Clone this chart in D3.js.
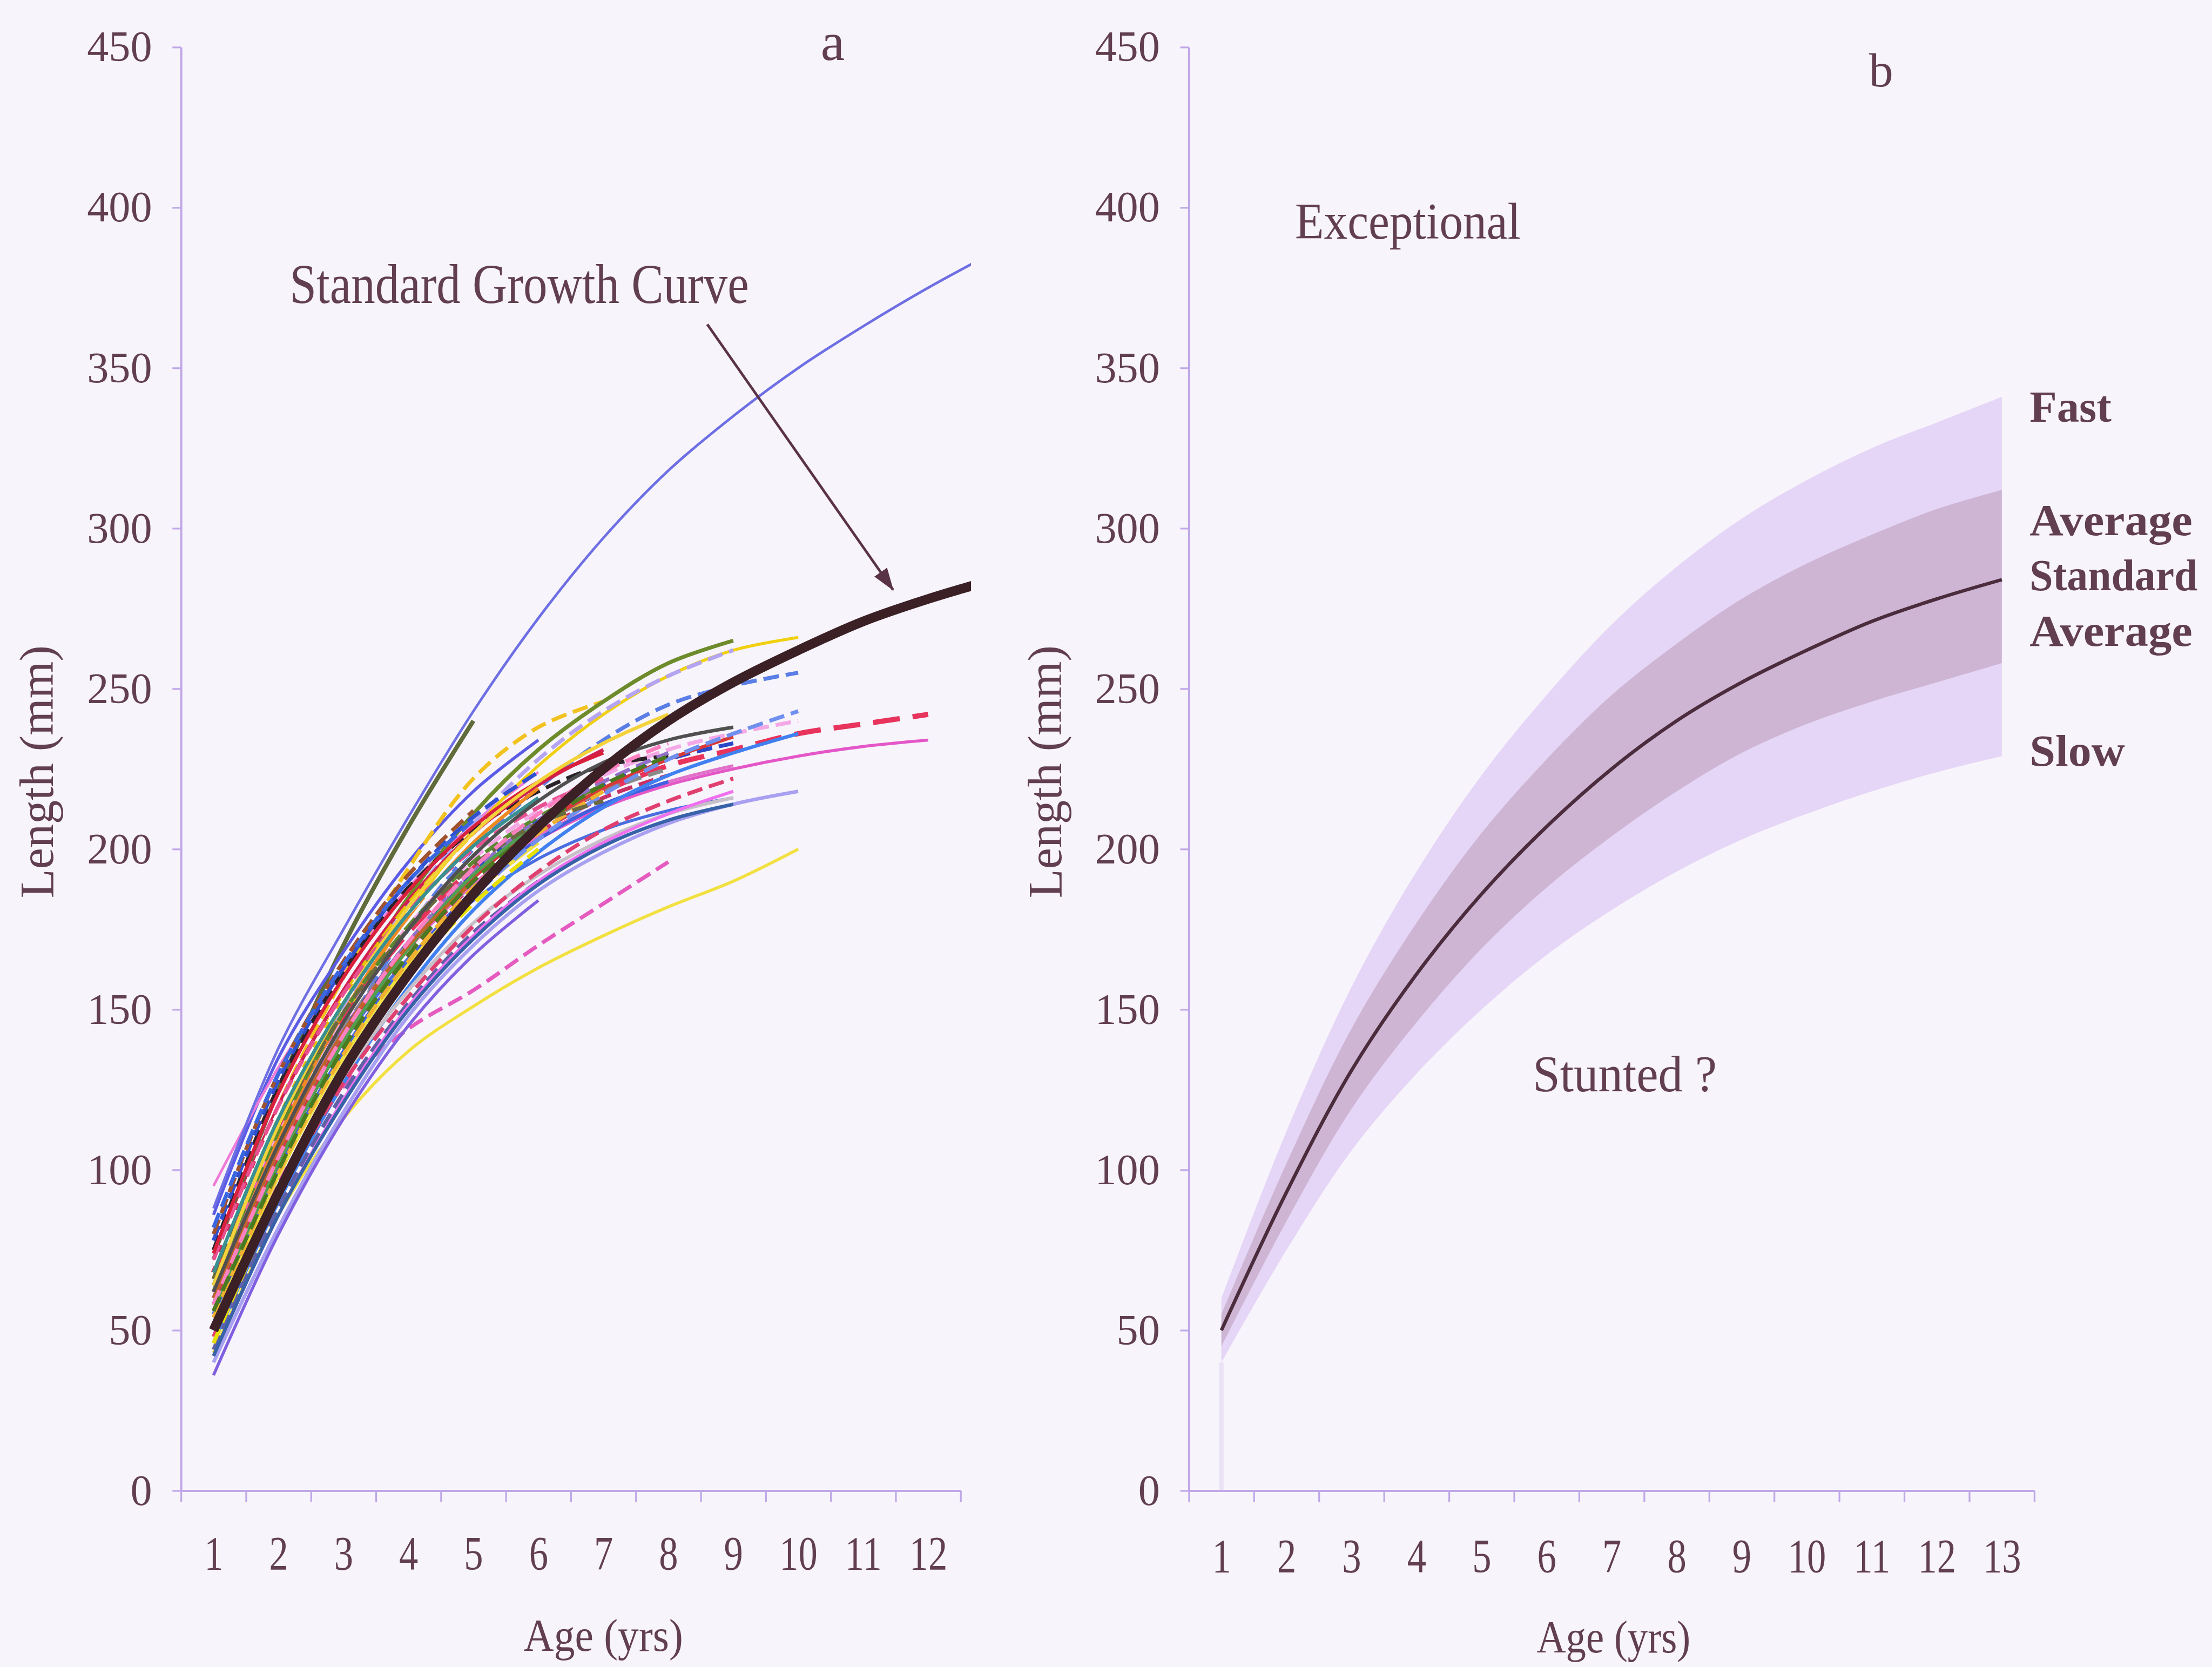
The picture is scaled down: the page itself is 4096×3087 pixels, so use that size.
<!DOCTYPE html>
<html><head><meta charset="utf-8">
<script src="https://cdn.jsdelivr.net/npm/d3@7"></script>
<style>html,body{margin:0;padding:0;background:#f7f4fb;}svg{display:block}</style>
</head><body>
<svg id="chart" width="4096" height="3087"></svg>
<script>
// ---------------- DATA ----------------
const ages = [1,2,3,4,5,6,7,8,9,10,11,12,13];
const xLabelsA = ["1","2","3","4","5","6","7","8","9","10","11","12"];
const xLabelsB = ["1","2","3","4","5","6","7","8","9","10","11","12","13"];
const yTicks = [0,50,100,150,200,250,300,350,400,450];

const standardCurve    = [50, 93, 131, 161, 186, 207, 225, 240, 252, 262, 271, 278, 284];
const exceptionalCurve = [88, 138, 175, 210, 243, 272, 297, 318, 335, 350, 363, 375, 386];

const fastUpper = [60, 112, 157, 193, 223, 248, 270, 288, 303, 315, 325, 333, 341];
const avgUpper  = [55, 102, 144, 177, 205, 228, 248, 264, 278, 289, 298, 306, 312];
const avgLower  = [45, 84, 119, 146, 169, 188, 204, 218, 230, 239, 246, 252, 258];
const slowLower = [40, 75, 106, 130, 150, 167, 181, 193, 203, 211, 218, 224, 229];

// individual fish back-calculated growth (length at age 1,2,3...)
const fishValues = [
  [72,125,170,207,240],
  [86,135,168,196,218,234],
  [95,132,162,188,208,224],
  [70,120,160,194,222,238,246],
  [62,112,152,185,211,231,246,258,265],
  [58,106,146,180,206,226,242,254,262,266],
  [60,108,150,183,208,228,243,254,262],
  [55,102,142,175,200,219,234,245,251,255],
  [66,112,148,176,197,212,223,231,236,240],
  [68,114,148,174,194,208,218,226,231,236,239,242],
  [64,110,144,170,189,203,213,220,225,229,232,234],
  [62,106,140,166,184,197,206,212,216],
  [75,126,162,188,206,218,226,229],
  [52,96,126,144,156,170,183,196],
  [43,86,116,137,151,163,173,182,190,200],
  [78,128,163,190,210,224],
  [70,120,156,184,205,220,231],
  [66,116,154,183,205],
  [62,108,144,171,192,207,218,225],
  [80,130,165,192,212],
  [60,110,149,179,202,219],
  [58,106,143,171,193,209,220,228,233],
  [56,102,139,167,189,205,216,223],
  [64,112,149,176,196,210,220],
  [62,108,143,169,189,204,214,221,226],
  [54,100,137,165,187,203,214,221],
  [70,118,153,180,200],
  [52,98,135,164,186,202],
  [58,104,141,169,191,207,219,228,235],
  [50,94,131,161,185,203,217,228,236,243],
  [60,106,143,171,193,209,221,230],
  [72,120,155,181,200,213,222],
  [56,102,140,169,192,208],
  [54,99,136,165,188,205,218],
  [46,90,127,157,181,199,213,223,230,236],
  [52,94,129,156,177,192,203,211,216],
  [48,92,127,154,176,193,206,215,222],
  [40,82,118,148,170,187,199,208,214,218],
  [44,88,124,152,174,190],
  [42,86,122,151,173,190,202,211,218],
  [46,92,131,161,183,200],
  [60,106,143,170,190],
  [42,86,121,150,172,189,201,209,214],
  [36,80,116,145,167,184],
  [66,114,149,175,195,208,215],
  [74,124,160,187,207,221,230],
  [82,130,164,190,209],
  [64,114,152,182,205,221,233,242],
  [68,116,152,180,201,216],
  [58,104,142,171,194,211,224,233],
  [62,108,146,175,198,215,227,234,238],
  [56,100,138,167,190,207,220,229]
];

// ---------------- STYLES ----------------
const fishStyles = [
  {c:"#5f6b3a",d:0,w:10},{c:"#5b5be6",d:0,w:7},{c:"#f07ad8",d:0,w:6},{c:"#f2c21e",d:1,w:9},
  {c:"#6d8b2a",d:0,w:9},{c:"#f0d010",d:0,w:7},{c:"#b4a4f2",d:1,w:9},{c:"#5a7ee6",d:1,w:9},
  {c:"#f4a8e6",d:1,w:9},{c:"#e8335c",d:2,w:12},{c:"#e457c8",d:0,w:7},{c:"#4a6ee0",d:0,w:7},
  {c:"#2a2228",d:1,w:9},{c:"#e55bbf",d:1,w:9},{c:"#f2e040",d:0,w:7},{c:"#3050d0",d:1,w:9},
  {c:"#d02050",d:0,w:8},{c:"#e8c000",d:1,w:9},{c:"#8a8a8a",d:1,w:9},{c:"#a0522d",d:1,w:9},
  {c:"#f08a20",d:0,w:8},{c:"#2a48c8",d:1,w:9},{c:"#c83064",d:1,w:9},{c:"#5a8a30",d:1,w:9},
  {c:"#e070c8",d:0,w:7},{c:"#4060e0",d:0,w:8},{c:"#ffffff",d:1,w:9},{c:"#f0e040",d:0,w:8},
  {c:"#d83838",d:0,w:8},{c:"#7090f0",d:1,w:9},{c:"#9070c8",d:1,w:9},{c:"#e85090",d:1,w:9},
  {c:"#50a050",d:0,w:8},{c:"#f0b030",d:1,w:9},{c:"#4080f0",d:0,w:8},{c:"#c8c0c8",d:0,w:8},
  {c:"#e04070",d:1,w:9},{c:"#a8a0f0",d:0,w:8},{c:"#6060a8",d:1,w:9},{c:"#f070f0",d:0,w:7},
  {c:"#e8e000",d:1,w:9},{c:"#c06428",d:0,w:8},{c:"#3862a8",d:0,w:8},{c:"#8060e0",d:0,w:7},
  {c:"#6a6a40",d:1,w:9},{c:"#d8203c",d:0,w:8},{c:"#3a66e0",d:1,w:9},{c:"#f4d23a",d:0,w:8},
  {c:"#3a9090",d:0,w:8},{c:"#ff80c0",d:1,w:9},{c:"#505050",d:0,w:8},{c:"#4a7a20",d:1,w:9}
];

const S = 0.802;
const BG = "#f7f4fb";
const TEXT = "#623f50";
const AXIS = "#bfa8e8";
const FONT = "'Liberation Serif','Times New Roman',serif";

const svg = d3.select("#chart");
const root = svg.append("g").attr("transform", `scale(${S})`);
root.append("rect").attr("width", 5101).attr("height", 3845).attr("fill", BG);

const Y0 = 3442, YTOP = 109;
const y = d3.scaleLinear().domain([0, 450]).range([Y0, YTOP]);

const A = {left: 418, right: 2218, clip: 2242};
const xA = d3.scaleLinear().domain([0.5, 12.5]).range([A.left, A.right]);
const B = {left: 2745, right: 4697};
const xB = d3.scaleLinear().domain([0.5, 13.5]).range([B.left, B.right]);

const pts = vals => vals.map((v, i) => [ages[i], v]);
const smooth = d3.curveCatmullRom.alpha(0.5);

// ---------------- PANEL A ----------------
const defs = root.append("defs");
defs.append("clipPath").attr("id", "clipA").append("rect")
  .attr("x", A.left).attr("y", 0).attr("width", A.clip - A.left).attr("height", Y0);

const lineA = d3.line().x(d => xA(d[0])).y(d => y(d[1])).curve(smooth);
const gA = root.append("g").attr("clip-path", "url(#clipA)");

fishValues.forEach((vals, i) => {
  const st = fishStyles[i];
  gA.append("path").attr("d", lineA(pts(vals)))
    .attr("fill", "none").attr("stroke", st.c).attr("stroke-width", st.w)
    .attr("stroke-linecap", "butt")
    .attr("stroke-dasharray", st.d === 2 ? "62,30" : st.d === 1 ? "36,16" : null);
});
gA.append("path").attr("d", lineA(pts(exceptionalCurve)))
  .attr("fill", "none").attr("stroke", "#6f6fe4").attr("stroke-width", 6);
gA.append("path").attr("d", lineA(pts(standardCurve)))
  .attr("fill", "none").attr("stroke", "#3b2026").attr("stroke-width", 22)
  .attr("stroke-linejoin", "round");

// ---------------- PANEL B ----------------
const lineB = d3.line().x(d => xB(d[0])).y(d => y(d[1])).curve(smooth);
const areaB = (lo, hi) => d3.area().x((d, i) => xB(ages[i])).y0((d, i) => y(lo[i])).y1((d, i) => y(hi[i]))
  .curve(smooth)(ages);
const gB = root.append("g");
gB.append("line").attr("x1", xB(ages[0])).attr("x2", xB(ages[0]))
  .attr("y1", y(0)).attr("y2", y(slowLower[0])).attr("stroke", "#ece2f8").attr("stroke-width", 10);
gB.append("path").attr("d", areaB(slowLower, fastUpper)).attr("fill", "#e5d5f6");
gB.append("path").attr("d", areaB(avgLower, avgUpper)).attr("fill", "#cdb5d3");
gB.append("path").attr("d", lineB(pts(standardCurve)))
  .attr("fill", "none").attr("stroke", "#4b2c3c").attr("stroke-width", 8);

// ---------------- AXES ----------------
function drawAxes(x, labels, axisX, labelY) {
  const n = labels.length;
  const yAxis = d3.axisLeft(y).tickValues(yTicks).tickSize(20).tickSizeOuter(0).tickPadding(47);
  const gy = root.append("g").attr("transform", `translate(${axisX},0)`).call(yAxis);
  gy.select(".domain").attr("stroke", AXIS).attr("stroke-width", 5);
  gy.selectAll(".tick line").attr("stroke", AXIS).attr("stroke-width", 4);
  gy.selectAll("text").attr("font-family", FONT).attr("font-size", 100).attr("fill", TEXT);

  const bounds = labels.map((l, i) => i + 0.5).concat([n + 0.5]);
  const xAxis = d3.axisBottom(x).tickValues(bounds).tickSize(26).tickSizeOuter(0).tickFormat("");
  const gx = root.append("g").attr("transform", `translate(0,${Y0})`).call(xAxis);
  gx.select(".domain").attr("stroke", AXIS).attr("stroke-width", 5);
  gx.selectAll(".tick line").attr("stroke", AXIS).attr("stroke-width", 4);

  const xLab = d3.axisBottom(x).tickValues(labels.map((l, i) => i + 1)).tickSize(0)
    .tickFormat(d => labels[d - 1]);
  const gl = root.append("g").attr("transform", `translate(0,${Y0})`).call(xLab);
  gl.select(".domain").remove();
  gl.selectAll("text").attr("dy", null).attr("y", labelY)
    .attr("transform", "scale(0.8,1)")
    .attr("font-family", FONT).attr("font-size", 110).attr("fill", TEXT);
}
drawAxes(xA, xLabelsA, A.left, 182);
drawAxes(xB, xLabelsB, B.left, 188);

// ---------------- TEXT ----------------
function label(t, x, yb, size, opts = {}) {
  const el = root.append("text").attr("x", x).attr("y", yb).text(t)
    .attr("font-family", FONT).attr("font-size", size).attr("fill", TEXT)
    .attr("font-weight", opts.bold ? "bold" : "normal");
  if (opts.len) el.attr("textLength", opts.len).attr("lengthAdjust", "spacingAndGlyphs");
  if (opts.anchor) el.attr("text-anchor", opts.anchor);
  return el;
}
label("a", 1895, 138, 125);
label("b", 4315, 200, 112);
label("Standard Growth Curve", 669, 700, 130, {len: 1060});
label("Exceptional", 2990, 551, 118, {len: 521});
label("Stunted ?", 3539, 2520, 120, {len: 425});
label("Fast", 4686, 974, 102, {bold: true, len: 189});
label("Average", 4686, 1236, 102, {bold: true, len: 376});
label("Standard", 4686, 1363, 102, {bold: true, len: 388});
label("Average", 4686, 1491, 102, {bold: true, len: 376});
label("Slow", 4686, 1768, 102, {bold: true, len: 220});
label("Age (yrs)", 1209, 3812, 105, {len: 368});
label("Age (yrs)", 3548, 3816, 105, {len: 355});

[[122, 1782], [2450, 1782]].forEach(([cx, cy]) => {
  root.append("text").attr("transform", `translate(${cx},${cy}) rotate(-90)`)
    .attr("text-anchor", "middle").text("Length (mm)")
    .attr("font-family", FONT).attr("font-size", 110).attr("fill", TEXT);
});

// arrow
defs.append("marker").attr("id", "arrowHead").attr("markerUnits", "userSpaceOnUse")
  .attr("markerWidth", 52).attr("markerHeight", 36).attr("refX", 50).attr("refY", 18)
  .attr("orient", "auto")
  .append("path").attr("d", "M0,0L52,18L0,36Z").attr("fill", "#5a3346");
root.append("line").attr("x1", 1633).attr("y1", 749).attr("x2", 2062).attr("y2", 1362)
  .attr("stroke", "#5a3346").attr("stroke-width", 6).attr("marker-end", "url(#arrowHead)");
</script>
</body></html>
